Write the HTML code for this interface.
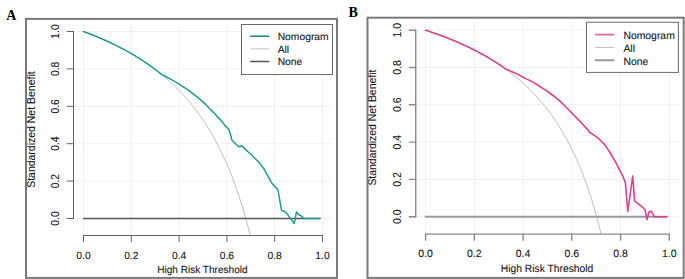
<!DOCTYPE html>
<html><head><meta charset="utf-8"><style>
html,body{margin:0;padding:0;background:#fff;}
body{width:685px;height:279px;overflow:hidden;}
svg{display:block;}
</style></head><body>
<svg width="685" height="279" viewBox="0 0 685 279">
<rect width="685" height="279" fill="#fff"/>
<g stroke="#f0f0f0" stroke-width="1"><line x1="83.50" y1="23.65" x2="83.50" y2="235.50"/><line x1="131.30" y1="23.65" x2="131.30" y2="235.50"/><line x1="179.10" y1="23.65" x2="179.10" y2="235.50"/><line x1="226.90" y1="23.65" x2="226.90" y2="235.50"/><line x1="274.70" y1="23.65" x2="274.70" y2="235.50"/><line x1="322.50" y1="23.65" x2="322.50" y2="235.50"/><line x1="73.50" y1="218.50" x2="332.06" y2="218.50"/><line x1="73.50" y1="181.10" x2="332.06" y2="181.10"/><line x1="73.50" y1="143.70" x2="332.06" y2="143.70"/><line x1="73.50" y1="106.30" x2="332.06" y2="106.30"/><line x1="73.50" y1="68.90" x2="332.06" y2="68.90"/><line x1="73.50" y1="31.50" x2="332.06" y2="31.50"/></g>
<polyline points="83.50,31.50 84.69,31.94 85.89,32.39 87.08,32.85 88.28,33.30 89.47,33.77 90.67,34.23 91.86,34.71 93.06,35.18 94.25,35.67 95.45,36.15 96.64,36.65 97.84,37.14 99.03,37.65 100.23,38.15 101.42,38.67 102.62,39.19 103.81,39.71 105.01,40.24 106.20,40.78 107.40,41.32 108.59,41.87 109.79,42.43 110.98,42.99 112.18,43.56 113.38,44.13 114.57,44.71 115.76,45.30 116.96,45.89 118.16,46.49 119.35,47.10 120.55,47.72 121.74,48.34 122.94,48.97 124.13,49.61 125.32,50.25 126.52,50.91 127.72,51.57 128.91,52.24 130.10,52.91 131.30,53.60 132.50,54.30 133.69,55.00 134.88,55.71 136.08,56.43 137.28,57.17 138.47,57.91 139.66,58.66 140.86,59.42 142.06,60.19 143.25,60.97 144.44,61.76 145.64,62.56 146.83,63.37 148.03,64.20 149.23,65.03 150.42,65.88 151.62,66.74 152.81,67.61 154.00,68.49 155.20,69.39 156.39,70.30 157.59,71.22 158.78,72.15 159.98,73.10 161.18,74.07 162.37,75.04 163.56,76.03 164.76,77.04 165.95,78.06 167.15,79.10 168.35,80.16 169.54,81.23 170.74,82.32 171.93,83.42 173.12,84.54 174.32,85.68 175.51,86.84 176.71,88.02 177.90,89.22 179.10,90.44 180.30,91.67 181.49,92.93 182.69,94.21 183.88,95.52 185.07,96.84 186.27,98.19 187.46,99.56 188.66,100.96 189.86,102.38 191.05,103.83 192.25,105.31 193.44,106.81 194.63,108.34 195.83,109.90 197.02,111.49 198.22,113.10 199.41,114.76 200.61,116.44 201.81,118.15 203.00,119.91 204.19,121.69 205.39,123.51 206.59,125.37 207.78,127.27 208.98,129.21 210.17,131.19 211.36,133.21 212.56,135.28 213.75,137.39 214.95,139.55 216.14,141.76 217.34,144.02 218.53,146.32 219.73,148.69 220.92,151.11 222.12,153.58 223.31,156.12 224.51,158.72 225.70,161.38 226.90,164.11 228.09,166.91 229.29,169.77 230.48,172.72 231.68,175.74 232.88,178.84 234.07,182.03 235.27,185.30 236.46,188.66 237.66,192.12 238.85,195.68 240.04,199.34 241.24,203.11 242.43,206.99 243.63,210.99 244.83,215.11 246.02,219.36 247.22,223.75 248.41,228.27 249.60,232.95 250.24,235.50" fill="none" stroke="#bdbdbd" stroke-width="1"/>
<line x1="83.50" y1="218.50" x2="320.11" y2="218.50" stroke="#555555" stroke-width="1.3" stroke-linecap="round"/>
<polyline points="83.50,31.50 85.46,32.23 87.42,32.97 89.38,33.73 91.34,34.50 93.30,35.28 95.26,36.07 97.22,36.88 99.18,37.71 101.14,38.54 103.10,39.40 105.06,40.26 107.02,41.15 108.98,42.05 110.94,42.97 112.90,43.90 114.86,44.85 116.82,45.82 118.78,46.81 120.74,47.82 122.70,48.84 124.66,49.89 126.62,50.96 128.58,52.05 130.54,53.16 132.50,54.30 134.45,55.46 136.41,56.64 138.37,57.85 140.33,59.08 142.29,60.34 144.25,61.63 146.21,62.95 148.17,64.30 150.13,65.68 152.09,67.09 154.05,68.53 156.01,70.00 157.97,71.52 159.93,73.06 161.89,74.65 165.60,76.50 169.20,78.40 172.80,80.30 176.30,82.30 178.00,83.40 181.60,85.90 185.20,88.00 188.80,90.40 192.30,93.10 194.00,94.60 197.60,97.20 201.20,100.40 204.80,103.60 208.30,107.20 210.00,109.00 213.60,112.60 217.20,116.60 220.80,120.10 222.00,121.80 224.90,125.40 227.70,128.20 229.20,130.40 230.20,133.60 231.00,136.50 231.80,140.00 233.60,141.80 236.50,144.70 239.00,146.80 241.50,145.80 243.30,147.20 246.50,150.40 248.00,151.80 250.90,154.30 253.70,157.20 256.60,160.00 259.50,162.90 261.60,165.80 263.80,168.60 266.80,174.10 269.00,177.90 270.60,181.10 272.80,184.40 275.40,187.00 277.40,189.00 278.30,191.50 279.90,201.10 281.70,210.80 283.70,211.00 285.70,212.30 287.90,214.90 290.00,217.90 292.20,220.90 294.20,223.50 296.50,211.90 297.80,213.60 299.50,215.20 301.60,216.00 303.80,218.40 320.11,218.50" fill="none" stroke="#1c9a94" stroke-width="1.5" stroke-linejoin="round" stroke-linecap="round"/>
<g stroke="#626262" stroke-width="1" stroke-linecap="round"><line x1="73.50" y1="218.50" x2="73.50" y2="31.50"/><line x1="67.10" y1="218.50" x2="73.50" y2="218.50"/><line x1="67.10" y1="181.10" x2="73.50" y2="181.10"/><line x1="67.10" y1="143.70" x2="73.50" y2="143.70"/><line x1="67.10" y1="106.30" x2="73.50" y2="106.30"/><line x1="67.10" y1="68.90" x2="73.50" y2="68.90"/><line x1="67.10" y1="31.50" x2="73.50" y2="31.50"/><line x1="83.50" y1="235.50" x2="322.50" y2="235.50"/><line x1="83.50" y1="235.50" x2="83.50" y2="241.50"/><line x1="131.30" y1="235.50" x2="131.30" y2="241.50"/><line x1="179.10" y1="235.50" x2="179.10" y2="241.50"/><line x1="226.90" y1="235.50" x2="226.90" y2="241.50"/><line x1="274.70" y1="235.50" x2="274.70" y2="241.50"/><line x1="322.50" y1="235.50" x2="322.50" y2="241.50"/></g>
<g fill="#161616" stroke="#161616" stroke-width="0.1" font-size="10.3" font-family="Liberation Sans, sans-serif"><text x="59.00" y="218.50" transform="rotate(-90 59.00 218.50)" text-anchor="middle">0.0</text><text x="59.00" y="181.10" transform="rotate(-90 59.00 181.10)" text-anchor="middle">0.2</text><text x="59.00" y="143.70" transform="rotate(-90 59.00 143.70)" text-anchor="middle">0.4</text><text x="59.00" y="106.30" transform="rotate(-90 59.00 106.30)" text-anchor="middle">0.6</text><text x="59.00" y="68.90" transform="rotate(-90 59.00 68.90)" text-anchor="middle">0.8</text><text x="59.00" y="31.50" transform="rotate(-90 59.00 31.50)" text-anchor="middle">1.0</text><text x="83.50" y="258.70" text-anchor="middle" text-rendering="geometricPrecision">0.0</text><text x="131.30" y="258.70" text-anchor="middle" text-rendering="geometricPrecision">0.2</text><text x="179.10" y="258.70" text-anchor="middle" text-rendering="geometricPrecision">0.4</text><text x="226.90" y="258.70" text-anchor="middle" text-rendering="geometricPrecision">0.6</text><text x="274.70" y="258.70" text-anchor="middle" text-rendering="geometricPrecision">0.8</text><text x="322.50" y="258.70" text-anchor="middle" text-rendering="geometricPrecision">1.0</text><text x="202.40" y="273.20" text-anchor="middle" text-rendering="geometricPrecision" textLength="90.5" lengthAdjust="spacingAndGlyphs">High Risk Threshold</text><text x="35.00" y="129.60" transform="rotate(-90 35.00 129.60)" text-anchor="middle" font-size="10.4" textLength="116.5" lengthAdjust="spacingAndGlyphs">Standardized Net Benefit</text></g>
<rect x="241.5" y="24.5" width="91.0" height="50.0" fill="#fff" stroke="#6a6a6a" stroke-width="1"/>
<line x1="250.6" y1="36.30" x2="268.9" y2="36.30" stroke="#178882" stroke-width="1.5" stroke-linecap="round"/>
<text text-rendering="geometricPrecision" x="277.7" y="40.00" fill="#161616" stroke="#161616" stroke-width="0.1" font-size="10.3" font-family="Liberation Sans, sans-serif">Nomogram</text>
<line x1="250.6" y1="48.90" x2="268.9" y2="48.90" stroke="#d0d0d0" stroke-width="1.3" stroke-linecap="round"/>
<text text-rendering="geometricPrecision" x="277.7" y="52.60" fill="#161616" stroke="#161616" stroke-width="0.1" font-size="10.3" font-family="Liberation Sans, sans-serif">All</text>
<line x1="250.6" y1="61.50" x2="268.9" y2="61.50" stroke="#555555" stroke-width="1.3" stroke-linecap="round"/>
<text text-rendering="geometricPrecision" x="277.7" y="65.20" fill="#161616" stroke="#161616" stroke-width="0.1" font-size="10.3" font-family="Liberation Sans, sans-serif">None</text>
<rect x="26" y="18.9" width="311" height="259.0" fill="none" stroke="#7a7a7a" stroke-width="2"/>
<text x="6.3" y="20" font-family="Liberation Serif, serif" font-weight="bold" font-size="14" fill="#000">A</text>
<g stroke="#f0f0f0" stroke-width="1"><line x1="425.60" y1="22.37" x2="425.60" y2="234.14"/><line x1="474.34" y1="22.37" x2="474.34" y2="234.14"/><line x1="523.08" y1="22.37" x2="523.08" y2="234.14"/><line x1="571.82" y1="22.37" x2="571.82" y2="234.14"/><line x1="620.56" y1="22.37" x2="620.56" y2="234.14"/><line x1="669.30" y1="22.37" x2="669.30" y2="234.14"/><line x1="415.70" y1="216.70" x2="679.05" y2="216.70"/><line x1="415.70" y1="179.40" x2="679.05" y2="179.40"/><line x1="415.70" y1="142.10" x2="679.05" y2="142.10"/><line x1="415.70" y1="104.80" x2="679.05" y2="104.80"/><line x1="415.70" y1="67.50" x2="679.05" y2="67.50"/><line x1="415.70" y1="30.20" x2="679.05" y2="30.20"/></g>
<polyline points="425.60,30.20 426.82,30.60 428.04,31.00 429.26,31.41 430.47,31.82 431.69,32.23 432.91,32.65 434.13,33.08 435.35,33.50 436.57,33.94 437.79,34.37 439.00,34.81 440.22,35.26 441.44,35.71 442.66,36.17 443.88,36.63 445.10,37.09 446.31,37.57 447.53,38.04 448.75,38.52 449.97,39.01 451.19,39.50 452.41,40.00 453.63,40.50 454.84,41.01 456.06,41.53 457.28,42.05 458.50,42.57 459.72,43.11 460.94,43.65 462.16,44.19 463.37,44.74 464.59,45.30 465.81,45.87 467.03,46.44 468.25,47.02 469.47,47.60 470.68,48.20 471.90,48.80 473.12,49.41 474.34,50.02 475.56,50.64 476.78,51.28 478.00,51.91 479.21,52.56 480.43,53.22 481.65,53.88 482.87,54.55 484.09,55.24 485.31,55.93 486.53,56.63 487.74,57.34 488.96,58.06 490.18,58.79 491.40,59.52 492.62,60.27 493.84,61.03 495.05,61.80 496.27,62.58 497.49,63.38 498.71,64.18 499.93,64.99 501.15,65.82 502.37,66.66 503.58,67.51 504.80,68.37 506.02,69.25 507.24,70.14 508.46,71.04 509.68,71.96 510.89,72.89 512.11,73.84 513.33,74.80 514.55,75.77 515.77,76.76 516.99,77.77 518.21,78.79 519.42,79.83 520.64,80.89 521.86,81.96 523.08,83.06 524.30,84.17 525.52,85.30 526.74,86.44 527.95,87.61 529.17,88.80 530.39,90.01 531.61,91.24 532.83,92.49 534.05,93.77 535.26,95.07 536.48,96.39 537.70,97.74 538.92,99.11 540.14,100.51 541.36,101.93 542.58,103.38 543.79,104.86 545.01,106.37 546.23,107.91 547.45,109.48 548.67,111.08 549.89,112.72 551.11,114.39 552.32,116.09 553.54,117.83 554.76,119.60 555.98,121.42 557.20,123.27 558.42,125.17 559.63,127.10 560.85,129.08 562.07,131.11 563.29,133.18 564.51,135.30 565.73,137.47 566.95,139.69 568.16,141.96 569.38,144.29 570.60,146.68 571.82,149.12 573.04,151.63 574.26,154.21 575.48,156.85 576.69,159.56 577.91,162.34 579.13,165.20 580.35,168.13 581.57,171.15 582.79,174.25 584.00,177.44 585.22,180.72 586.44,184.10 587.66,187.58 588.88,191.17 590.10,194.86 591.32,198.68 592.53,202.61 593.75,206.67 594.97,210.86 596.19,215.19 597.41,219.67 598.63,224.31 599.85,229.10 601.06,234.07 601.08,234.14" fill="none" stroke="#bdbdbd" stroke-width="1"/>
<line x1="425.60" y1="216.70" x2="666.86" y2="216.70" stroke="#999999" stroke-width="2" stroke-linecap="round"/>
<polyline points="425.60,30.20 427.61,30.86 429.62,31.53 431.63,32.21 433.64,32.91 435.65,33.61 437.66,34.33 439.67,35.06 441.68,35.80 443.69,36.56 445.71,37.33 447.72,38.11 449.73,38.91 451.74,39.72 453.75,40.55 455.76,41.40 457.77,42.26 459.78,43.13 461.79,44.03 463.80,44.94 465.81,45.87 467.82,46.81 469.83,47.78 471.84,48.77 473.85,49.77 475.86,50.80 477.87,51.85 479.88,52.92 481.89,54.02 483.91,55.13 485.92,56.28 487.93,57.44 489.94,58.64 491.95,59.86 493.96,61.11 495.97,62.39 497.98,63.70 499.99,65.03 502.00,66.41 504.01,67.81 506.02,69.25 508.60,70.30 511.50,71.50 514.30,72.80 516.00,73.40 519.60,75.20 523.20,77.20 526.80,79.10 530.30,80.80 532.00,81.60 535.60,83.70 539.20,86.00 542.80,88.40 546.30,90.60 548.00,91.70 551.60,94.50 555.20,97.20 558.80,100.10 562.30,103.40 564.00,105.00 567.60,108.80 571.20,112.40 574.80,116.00 578.30,119.60 580.00,121.20 583.60,125.20 587.20,129.10 590.00,132.70 591.50,133.60 593.60,134.90 596.00,136.60 597.60,137.70 601.20,141.00 604.80,144.90 607.60,148.90 609.40,151.50 611.40,155.00 613.50,158.60 615.70,162.10 617.90,166.70 620.50,171.50 622.60,175.80 624.30,179.60 625.40,182.60 627.80,211.50 632.70,176.00 634.60,201.20 636.20,202.30 639.30,204.70 643.10,207.70 644.90,209.50 647.00,219.50 649.20,211.60 651.60,211.60 654.30,216.70 666.86,216.70" fill="none" stroke="#de3f8f" stroke-width="1.6" stroke-linejoin="round" stroke-linecap="round"/>
<g stroke="#8a8a8a" stroke-width="1.4" stroke-linecap="round"><line x1="415.70" y1="216.70" x2="415.70" y2="30.20"/><line x1="409.30" y1="216.70" x2="415.70" y2="216.70"/><line x1="409.30" y1="179.40" x2="415.70" y2="179.40"/><line x1="409.30" y1="142.10" x2="415.70" y2="142.10"/><line x1="409.30" y1="104.80" x2="415.70" y2="104.80"/><line x1="409.30" y1="67.50" x2="415.70" y2="67.50"/><line x1="409.30" y1="30.20" x2="415.70" y2="30.20"/><line x1="425.60" y1="234.14" x2="669.30" y2="234.14"/><line x1="425.60" y1="234.14" x2="425.60" y2="240.14"/><line x1="474.34" y1="234.14" x2="474.34" y2="240.14"/><line x1="523.08" y1="234.14" x2="523.08" y2="240.14"/><line x1="571.82" y1="234.14" x2="571.82" y2="240.14"/><line x1="620.56" y1="234.14" x2="620.56" y2="240.14"/><line x1="669.30" y1="234.14" x2="669.30" y2="240.14"/></g>
<g fill="#161616" stroke="#161616" stroke-width="0.1" font-size="10.5" font-family="Liberation Sans, sans-serif"><text x="401.20" y="216.70" transform="rotate(-90 401.20 216.70)" text-anchor="middle">0.0</text><text x="401.20" y="179.40" transform="rotate(-90 401.20 179.40)" text-anchor="middle">0.2</text><text x="401.20" y="142.10" transform="rotate(-90 401.20 142.10)" text-anchor="middle">0.4</text><text x="401.20" y="104.80" transform="rotate(-90 401.20 104.80)" text-anchor="middle">0.6</text><text x="401.20" y="67.50" transform="rotate(-90 401.20 67.50)" text-anchor="middle">0.8</text><text x="401.20" y="30.20" transform="rotate(-90 401.20 30.20)" text-anchor="middle">1.0</text><text x="425.60" y="257.30" text-anchor="middle" text-rendering="geometricPrecision">0.0</text><text x="474.34" y="257.30" text-anchor="middle" text-rendering="geometricPrecision">0.2</text><text x="523.08" y="257.30" text-anchor="middle" text-rendering="geometricPrecision">0.4</text><text x="571.82" y="257.30" text-anchor="middle" text-rendering="geometricPrecision">0.6</text><text x="620.56" y="257.30" text-anchor="middle" text-rendering="geometricPrecision">0.8</text><text x="669.30" y="257.30" text-anchor="middle" text-rendering="geometricPrecision">1.0</text><text x="547.05" y="271.90" text-anchor="middle" text-rendering="geometricPrecision" textLength="92.5" lengthAdjust="spacingAndGlyphs">High Risk Threshold</text><text x="376.30" y="127.60" transform="rotate(-90 376.30 127.60)" text-anchor="middle" font-size="10.4" textLength="116" lengthAdjust="spacingAndGlyphs">Standardized Net Benefit</text></g>
<rect x="586.5" y="22.3" width="91.89999999999998" height="50.10000000000001" fill="#fff" stroke="#6a6a6a" stroke-width="1"/>
<line x1="595.7" y1="34.60" x2="613.8" y2="34.60" stroke="#e264a2" stroke-width="1.6" stroke-linecap="round"/>
<text text-rendering="geometricPrecision" x="623.4" y="38.80" fill="#161616" stroke="#161616" stroke-width="0.1" font-size="10.4" font-family="Liberation Sans, sans-serif">Nomogram</text>
<line x1="595.7" y1="47.45" x2="613.8" y2="47.45" stroke="#bdbdbd" stroke-width="1" stroke-linecap="round"/>
<text text-rendering="geometricPrecision" x="623.4" y="51.65" fill="#161616" stroke="#161616" stroke-width="0.1" font-size="10.4" font-family="Liberation Sans, sans-serif">All</text>
<line x1="595.7" y1="60.30" x2="613.8" y2="60.30" stroke="#999999" stroke-width="2" stroke-linecap="round"/>
<text text-rendering="geometricPrecision" x="623.4" y="64.50" fill="#161616" stroke="#161616" stroke-width="0.1" font-size="10.4" font-family="Liberation Sans, sans-serif">None</text>
<rect x="367.5" y="17.7" width="316.20000000000005" height="260.2" fill="none" stroke="#7a7a7a" stroke-width="2"/>
<text x="348.5" y="17" font-family="Liberation Serif, serif" font-weight="bold" font-size="14" fill="#000">B</text>
</svg>
</body></html>
